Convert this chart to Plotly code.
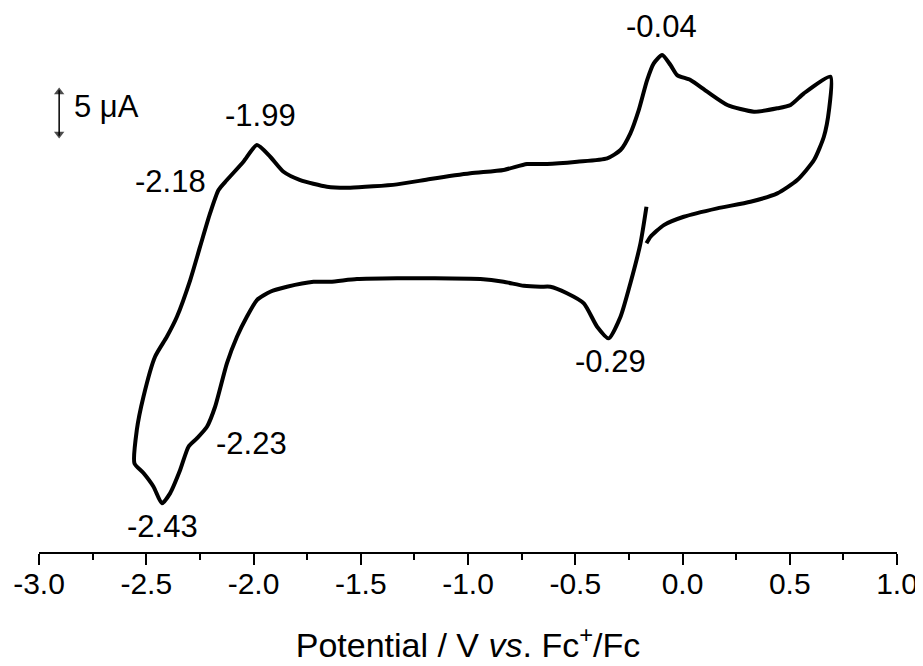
import plotly.graph_objects as go

# Cyclic voltammogram: potential (V vs Fc+/Fc) and current (µA, arbitrary offset)
potential = [
    -0.168, -0.196, -0.243, -0.289, -0.344, -0.398, -0.460, -0.541, -0.616, -0.662,
    -0.740, -0.834, -0.942, -1.176, -1.331, -1.518, -1.642, -1.720, -1.844, -1.922,
    -1.984, -2.031, -2.077, -2.124, -2.179, -2.217, -2.264, -2.303, -2.342, -2.389,
    -2.427, -2.466, -2.513, -2.555, -2.544, -2.513, -2.459, -2.404, -2.357, -2.295,
    -2.249, -2.202, -2.163, -2.124, -2.047, -1.984, -1.922, -1.860, -1.782, -1.658,
    -1.549, -1.331, -1.176, -0.989, -0.834, -0.725, -0.631, -0.491, -0.351, -0.289,
    -0.243, -0.204, -0.165, -0.134, -0.095, -0.056, -0.025, 0.037, 0.115, 0.209,
    0.333, 0.442, 0.504, 0.566, 0.690, 0.683, 0.659, 0.613, 0.535, 0.442,
    0.317, 0.162, 0.006, -0.087, -0.149, -0.168,
]
current = [
    4.01, 0.62, -3.08, -6.18, -8.18, -7.10, -4.94, -3.98, -3.40, -3.40,
    -3.31, -2.94, -2.69, -2.62, -2.62, -2.69, -2.94, -2.94, -3.40, -3.86,
    -4.63, -6.18, -8.03, -10.49, -14.51, -16.36, -17.44, -18.21, -20.37, -22.53,
    -23.45, -21.92, -20.65, -19.75, -16.67, -13.58, -9.88, -8.03, -6.18, -2.78,
    0.31, 3.43, 5.56, 6.48, 8.18, 9.72, 8.64, 7.25, 6.48, 5.86,
    5.77, 6.08, 6.57, 7.10, 7.41, 7.96, 7.96, 8.18, 8.49, 9.26,
    10.81, 12.96, 15.74, 17.29, 18.06, 17.13, 16.20, 15.74, 14.66, 13.43,
    12.81, 13.12, 13.43, 14.51, 16.05, 12.96, 10.49, 8.33, 6.48, 5.25,
    4.47, 3.86, 3.08, 2.31, 1.23, 0.62,
]

# Peak labels
peak_labels = ["-0.04", "-1.99", "-2.18", "-2.23", "-2.43", "-0.29"]
peak_label_x = [-0.098, -1.969, -2.386, -2.011, -2.426, -0.336]
peak_label_y = [20.68, 12.5, 6.39, -17.87, -25.56, -10.28]

# Scale bar (5 µA)
scale_x = -2.906
scale_bottom = 10.19
scale_value = 5.0
scale_label = "5 μA"

# x-axis ticks
tick_vals = [-3.0, -2.5, -2.0, -1.5, -1.0, -0.5, 0.0, 0.5, 1.0]
tick_text = ["-3.0", "-2.5", "-2.0", "-1.5", "-1.0", "-0.5", "0.0", "0.5", "1.0"]
x_title = "Potential / V <i>vs</i>. Fc<sup>+</sup>/Fc"

FONT = "Arial, 'Liberation Sans', sans-serif"

fig = go.Figure()
fig.add_trace(go.Scatter(
    x=potential, y=current, mode="lines",
    line=dict(color="black", width=4, shape="spline", smoothing=0.6),
    showlegend=False, hoverinfo="skip",
))

# double-headed scale arrow: shaft + two arrowheads
scale_top = scale_bottom + scale_value
fig.add_trace(go.Scatter(
    x=[scale_x, scale_x], y=[scale_bottom + 0.4, scale_top - 0.4], mode="lines",
    line=dict(color="black", width=1.5), showlegend=False, hoverinfo="skip",
))
fig.add_trace(go.Scatter(
    x=[scale_x, scale_x], y=[scale_top - 0.55, scale_bottom + 0.55], mode="markers",
    marker=dict(symbol=["triangle-up", "triangle-down"], size=[9, 9], color="black",
                line=dict(width=0)),
    showlegend=False, hoverinfo="skip",
))
fig.add_annotation(x=scale_x + 0.06, y=scale_bottom + scale_value / 2 + 0.6,
                   text=scale_label, showarrow=False,
                   xanchor="left", yanchor="middle",
                   font=dict(family=FONT, size=31, color="black"))

for txt, xx, yy in zip(peak_labels, peak_label_x, peak_label_y):
    fig.add_annotation(x=xx, y=yy, text=txt, showarrow=False,
                       font=dict(family=FONT, size=31, color="black"),
                       xanchor="center", yanchor="middle")

fig.update_xaxes(
    range=[-3.0, 1.0], tickvals=tick_vals, ticktext=tick_text,
    showline=True, linecolor="black", linewidth=2,
    ticks="outside", ticklen=11, tickwidth=2, tickcolor="black",
    minor=dict(ticks="outside", ticklen=6, tickwidth=2, tickcolor="black", dtick=0.25,
               tick0=-3.0, showgrid=False),
    showgrid=False, zeroline=False, automargin=False,
    ticklabelstandoff=-7,
    tickfont=dict(family=FONT, size=30, color="black"),
    title=dict(text=x_title, font=dict(family=FONT, size=34, color="black"), standoff=34),
)
fig.update_yaxes(range=[-27.96, 22.41], visible=False, showgrid=False, zeroline=False,
                 automargin=False)

# page body has an 8px default margin; margins compensate for it
fig.update_layout(
    width=923, height=666,
    margin=dict(l=31, r=34, t=0, b=122, autoexpand=False),
    plot_bgcolor="white", paper_bgcolor="white",
)

fig.write_html("out.html")
